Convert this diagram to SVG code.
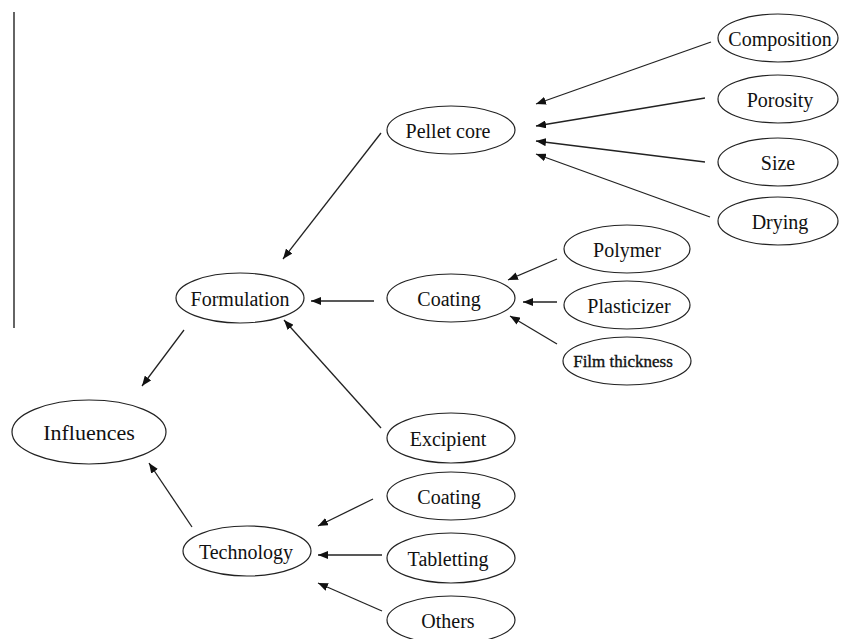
<svg xmlns="http://www.w3.org/2000/svg" width="841" height="639" viewBox="0 0 841 639">
<style>
.n ellipse{fill:#fff;stroke:#222;stroke-width:1.2}
.n text{font-family:"Liberation Serif","Times New Roman","DejaVu Serif",serif;font-size:20px;fill:#111;text-anchor:middle}
.c line{stroke:#222;stroke-width:1.3;marker-end:url(#ah)}
</style>
<defs>
<marker id="ah" viewBox="0 0 10 8" refX="10" refY="4" markerWidth="10" markerHeight="8" markerUnits="userSpaceOnUse" orient="auto">
<path d="M0,0 L10,4 L0,8 z" fill="#111"/>
</marker>
</defs>
<rect width="841" height="639" fill="#fff"/>
<line x1="14" y1="12" x2="14" y2="328" stroke="#111" stroke-width="1.3"/>
<g class="c">
<line x1="381" y1="133" x2="283" y2="259"/>
<line x1="374" y1="301" x2="311" y2="301"/>
<line x1="184" y1="330" x2="142" y2="386"/>
<line x1="192" y1="527" x2="149" y2="463"/>
<line x1="381" y1="428" x2="284" y2="320"/>
<line x1="373" y1="499" x2="318" y2="526"/>
<line x1="382" y1="555" x2="318" y2="555"/>
<line x1="382" y1="611" x2="318" y2="583"/>
<line x1="711" y1="42" x2="536" y2="104"/>
<line x1="705" y1="98" x2="536" y2="126"/>
<line x1="705" y1="162" x2="536" y2="141"/>
<line x1="710" y1="217" x2="536" y2="154"/>
<line x1="557" y1="259" x2="508" y2="280"/>
<line x1="557" y1="302" x2="523" y2="302"/>
<line x1="557" y1="344" x2="510" y2="316"/>
</g>
<g id="composition" class="n"><ellipse cx="778" cy="38" rx="60" ry="24"/><text x="780" y="46">Composition</text></g>
<g id="porosity" class="n"><ellipse cx="778" cy="99" rx="60" ry="24"/><text x="780" y="107">Porosity</text></g>
<g id="size" class="n"><ellipse cx="778" cy="162" rx="60" ry="24"/><text x="778" y="170">Size</text></g>
<g id="drying" class="n"><ellipse cx="778" cy="221" rx="60" ry="24"/><text x="780" y="229">Drying</text></g>
<g id="pellet-core" class="n"><ellipse cx="451" cy="130" rx="64" ry="24"/><text x="448" y="138">Pellet core</text></g>
<g id="polymer" class="n"><ellipse cx="627" cy="249" rx="63" ry="24"/><text x="627" y="257">Polymer</text></g>
<g id="plasticizer" class="n"><ellipse cx="627" cy="305" rx="63" ry="24"/><text x="629" y="313">Plasticizer</text></g>
<g id="film-thickness" class="n"><ellipse cx="627" cy="361" rx="64" ry="24"/><text x="623" y="367" style="font-size:17px;stroke:#111;stroke-width:0.35">Film thickness</text></g>
<g id="coating1" class="n"><ellipse cx="451" cy="298" rx="64" ry="24"/><text x="449" y="306">Coating</text></g>
<g id="formulation" class="n"><ellipse cx="240" cy="298" rx="64" ry="25"/><text x="240" y="306">Formulation</text></g>
<g id="influences" class="n"><ellipse cx="89" cy="432" rx="77" ry="32"/><text x="89" y="440" style="font-size:22px">Influences</text></g>
<g id="excipient" class="n"><ellipse cx="451" cy="438" rx="64" ry="25"/><text x="448" y="446">Excipient</text></g>
<g id="coating2" class="n"><ellipse cx="451" cy="496" rx="64" ry="24"/><text x="449" y="504">Coating</text></g>
<g id="tabletting" class="n"><ellipse cx="451" cy="558" rx="64" ry="25"/><text x="448" y="566">Tabletting</text></g>
<g id="others" class="n"><ellipse cx="451" cy="620" rx="64" ry="24"/><text x="448" y="628">Others</text></g>
<g id="technology" class="n"><ellipse cx="247" cy="551" rx="64" ry="25"/><text x="246" y="559">Technology</text></g>
</svg>
